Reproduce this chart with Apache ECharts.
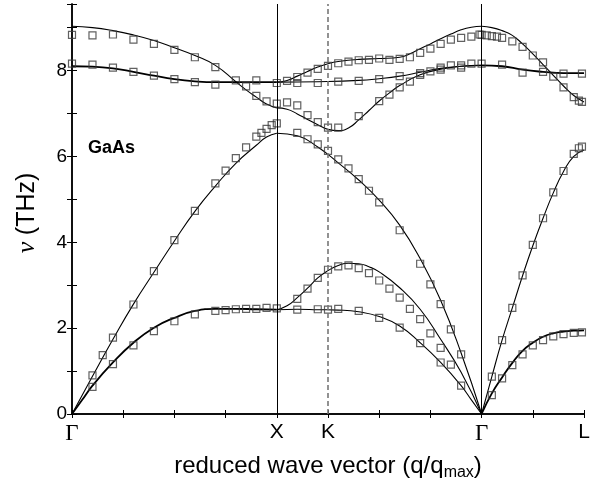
<!DOCTYPE html>
<html>
<head>
<meta charset="utf-8">
<script src="https://cdn.jsdelivr.net/npm/echarts@6/dist/echarts.min.js"></script>
<style>
  html, body { margin: 0; padding: 0; background: #fff; }
  #chart { width: 600px; height: 486px; }
</style>
</head>
<body>
<div id="chart"></div>
<script>
// high symmetry points along the path, in reduced units
var symPos = [0, 1, 1.25, 2, 2.5];
var symNames = ['Γ', 'X', 'K', 'Γ', 'L'];
var yTicks = [0, 2, 4, 6, 8];

// model curves (solid lines), Γ -> X
var lineGX_TA = [[0,0],[0.05,0.33],[0.1,0.66],[0.2,1.2],[0.3,1.66],[0.4,2.01],[0.5,2.24],[0.6,2.40],[0.7,2.45],[0.8,2.45],[0.9,2.44],[1.0,2.43]];
var lineGX_LA = [[0,0],[0.1,0.88],[0.2,1.74],[0.3,2.56],[0.4,3.30],[0.5,4.03],[0.6,4.72],[0.7,5.31],[0.8,5.84],[0.9,6.26],[0.95,6.45],[1.0,6.54]];
var lineGX_TO = [[0,8.10],[0.1,8.09],[0.2,8.05],[0.3,7.97],[0.4,7.88],[0.5,7.80],[0.6,7.75],[0.7,7.73],[0.8,7.73],[0.9,7.73],[1.0,7.73]];
var lineGX_LO = [[0,9.03],[0.1,9.0],[0.2,8.93],[0.3,8.83],[0.4,8.70],[0.5,8.53],[0.6,8.35],[0.7,8.12],[0.8,7.74],[0.85,7.55],[0.9,7.38],[0.95,7.22],[1.0,7.13]];

// X -> K -> Γ
var lineXG_TA1 = [[1,2.43],[1.1,2.44],[1.2,2.43],[1.3,2.42],[1.4,2.38],[1.5,2.27],[1.6,2.05],[1.7,1.66],[1.8,1.20],[1.9,0.66],[1.95,0.33],[2.0,0]];
var lineXG_TA2 = [[1,2.43],[1.05,2.52],[1.1,2.71],[1.15,2.93],[1.2,3.17],[1.25,3.34],[1.3,3.46],[1.35,3.51],[1.4,3.50],[1.45,3.43],[1.5,3.31],[1.6,2.94],[1.7,2.44],[1.8,1.74],[1.9,0.97],[2.0,0]];
var lineXG_LA = [[1,6.54],[1.1,6.48],[1.2,6.22],[1.3,5.85],[1.4,5.45],[1.5,4.98],[1.6,4.40],[1.7,3.62],[1.8,2.65],[1.9,1.42],[2.0,0]];
var lineXG_O1 = [[1,7.13],[1.05,7.10],[1.1,6.99],[1.15,6.86],[1.2,6.74],[1.25,6.63],[1.3,6.60],[1.35,6.66],[1.4,6.85],[1.45,7.07],[1.5,7.29],[1.55,7.48],[1.6,7.65],[1.7,7.90],[1.8,8.03],[1.9,8.10],[2.0,8.12]];
var lineXG_TO = [[1,7.73],[1.2,7.74],[1.4,7.77],[1.5,7.81],[1.6,7.87],[1.7,7.96],[1.8,8.05],[1.9,8.10],[2.0,8.12]];
var lineXG_LO = [[1,7.73],[1.05,7.77],[1.1,7.87],[1.15,7.98],[1.2,8.08],[1.25,8.16],[1.3,8.21],[1.4,8.26],[1.5,8.28],[1.6,8.31],[1.65,8.39],[1.7,8.51],[1.75,8.62],[1.8,8.74],[1.85,8.85],[1.9,8.95],[1.95,9.01],[2.0,9.03]];

// Γ -> L
var lineGL_TA = [[2,0],[2.05,0.48],[2.1,0.85],[2.15,1.19],[2.2,1.47],[2.25,1.66],[2.3,1.80],[2.35,1.88],[2.4,1.92],[2.45,1.94],[2.5,1.95]];
var lineGL_LA = [[2,0],[2.05,0.87],[2.1,1.72],[2.15,2.47],[2.2,3.22],[2.25,3.92],[2.3,4.56],[2.35,5.15],[2.4,5.65],[2.45,6.0],[2.5,6.15]];
var lineGL_TO = [[2,8.12],[2.1,8.10],[2.2,8.02],[2.3,7.97],[2.4,7.94],[2.5,7.94]];
var lineGL_LO = [[2,9.03],[2.05,9.0],[2.1,8.93],[2.15,8.82],[2.2,8.62],[2.25,8.39],[2.3,8.14],[2.35,7.89],[2.4,7.64],[2.45,7.42],[2.5,7.27]];

// measured points (open squares)
var ptsGX_LO = [[0,8.83],[0.1,8.82],[0.2,8.84],[0.3,8.72],[0.4,8.62],[0.5,8.48],[0.6,8.31],[0.7,8.08],[0.85,7.63],[0.9,7.41],[0.95,7.28],[1.0,7.23]];
var ptsGX_TO = [[0,8.16],[0.1,8.14],[0.2,8.07],[0.3,7.97],[0.4,7.88],[0.5,7.80],[0.6,7.73],[0.7,7.67],[0.8,7.77],[0.9,7.77],[1.0,7.71]];
var ptsGX_LA = [[0.1,0.9],[0.15,1.37],[0.2,1.78],[0.3,2.55],[0.4,3.33],[0.5,4.05],[0.6,4.73],[0.7,5.37],[0.75,5.67],[0.8,5.96],[0.85,6.21],[0.9,6.46],[0.925,6.55],[0.95,6.64],[0.975,6.73],[1.0,6.77]];
var ptsGX_TA = [[0.1,0.63],[0.2,1.16],[0.3,1.60],[0.4,1.93],[0.5,2.16],[0.6,2.32],[0.7,2.40],[0.75,2.42],[0.8,2.44],[0.85,2.45],[0.9,2.45],[0.95,2.47],[1.0,2.46]];

var ptsXG_LO = [[1.05,7.76],[1.1,7.85],[1.15,7.95],[1.2,8.04],[1.25,8.11],[1.3,8.17],[1.35,8.21],[1.4,8.24],[1.45,8.25],[1.5,8.28],[1.55,8.25],[1.6,8.27],[1.65,8.31],[1.7,8.41],[1.75,8.51],[1.8,8.62],[1.85,8.72],[1.9,8.76],[1.95,8.79],[1.99,8.84],[2.0,8.83]];
var ptsXG_TO = [[1.1,7.71],[1.2,7.71],[1.3,7.74],[1.4,7.76],[1.5,7.80],[1.6,7.87],[1.7,7.94],[1.8,8.07],[1.85,8.12],[1.9,8.12],[1.95,8.16],[2.0,8.16]];
var ptsXG_O1 = [[1.05,7.26],[1.1,7.19],[1.15,6.96],[1.2,6.80],[1.25,6.67],[1.3,6.67],[1.4,6.94],[1.5,7.29],[1.55,7.44],[1.6,7.61],[1.65,7.74],[1.7,7.90],[1.75,7.98],[1.8,8.02],[1.9,8.07]];
var ptsXG_LA = [[1.1,6.55],[1.15,6.40],[1.2,6.28],[1.25,6.13],[1.3,5.93],[1.35,5.72],[1.4,5.47],[1.45,5.20],[1.5,4.93],[1.6,4.28],[1.7,3.50],[1.75,3.02],[1.8,2.56],[1.85,1.97],[1.9,1.39]];
var ptsXG_TA2 = [[1.1,2.68],[1.15,2.92],[1.2,3.17],[1.25,3.36],[1.3,3.44],[1.35,3.46],[1.4,3.40],[1.45,3.28],[1.5,3.11],[1.55,2.92],[1.6,2.71],[1.65,2.45],[1.7,2.21],[1.75,1.88],[1.8,1.54],[1.85,1.15]];
var ptsXG_TA1 = [[1.1,2.43],[1.2,2.44],[1.25,2.43],[1.3,2.45],[1.4,2.40],[1.5,2.24],[1.6,2.01],[1.7,1.65],[1.8,1.20],[1.9,0.66]];

var ptsGL_LO = [[2.025,8.82],[2.05,8.80],[2.075,8.79],[2.1,8.76],[2.15,8.68],[2.2,8.55],[2.25,8.35],[2.3,8.19],[2.35,7.86],[2.4,7.61],[2.45,7.38],[2.475,7.30],[2.49,7.27]];
var ptsGL_TO = [[2.1,8.14],[2.2,7.95],[2.3,7.97],[2.4,7.93],[2.49,7.93]];
var ptsGL_LA = [[2.05,0.87],[2.1,1.72],[2.15,2.47],[2.2,3.23],[2.25,3.94],[2.3,4.56],[2.35,5.16],[2.4,5.66],[2.45,6.06],[2.475,6.19],[2.49,6.23]];
var ptsGL_TA = [[2.05,0.44],[2.1,0.83],[2.15,1.14],[2.2,1.39],[2.25,1.60],[2.3,1.72],[2.35,1.81],[2.4,1.86],[2.45,1.89],[2.49,1.90]];

var chart = echarts.init(document.getElementById('chart'));

var sans = 'Liberation Sans, Arial, sans-serif';
var serif = 'Liberation Serif, Times New Roman, serif';

// thin curves and the doubly degenerate transverse ones (drawn thicker)
var thinLines = [lineGX_LA, lineGX_LO, lineXG_TA1, lineXG_TA2, lineXG_LA, lineXG_O1, lineXG_TO, lineXG_LO, lineGL_LA, lineGL_LO];
var thickLines = [lineGX_TA, lineGX_TO, lineGL_TA, lineGL_TO];

var allPts = [].concat(ptsGX_LO, ptsGX_TO, ptsGX_LA, ptsGX_TA,
    ptsXG_LO, ptsXG_TO, ptsXG_O1, ptsXG_LA, ptsXG_TA2, ptsXG_TA1,
    ptsGL_LO, ptsGL_TO, ptsGL_LA, ptsGL_TA);

var series = [];

function addLine(d, w) {
    series.push({
        type: 'line',
        data: d,
        smooth: 0.5,
        showSymbol: false,
        symbol: 'none',
        silent: true,
        lineStyle: { color: '#000', width: w },
        z: 3
    });
}
thinLines.forEach(function (d) { addLine(d, 1.1); });
thickLines.forEach(function (d) { addLine(d, 1.8); });

// vertical lines at X, Γ (solid) and K (dashed)
series[0].markLine = {
    silent: true,
    symbol: 'none',
    label: { show: false },
    lineStyle: { color: '#000', width: 1, type: 'solid' },
    data: [{ xAxis: symPos[1] }, { xAxis: symPos[3] }]
};
series[1].markLine = {
    silent: true,
    symbol: 'none',
    label: { show: false },
    lineStyle: { color: '#777', width: 1.6, type: [5, 3] },
    data: [{ xAxis: symPos[2] }]
};

series.push({
    type: 'scatter',
    data: allPts,
    symbol: 'rect',
    symbolSize: 7,
    silent: true,
    itemStyle: { color: 'rgba(0,0,0,0)', borderColor: '#3a3a3a', borderWidth: 1.2 },
    z: 4
});

chart.setOption({
    animation: false,
    grid: { left: 72, right: 16, top: 4, bottom: 71 },
    xAxis: [{
        type: 'value',
        min: 0,
        max: 2.5,
        interval: 0.25,
        splitLine: { show: false },
        axisLine: { lineStyle: { color: '#000', width: 1.5 } },
        axisTick: { length: 4, lineStyle: { color: '#000' } },
        axisLabel: {
            margin: 8,
            formatter: function (v) {
                var i = symPos.indexOf(v);
                if (i < 0) return '';
                return symNames[i] === 'Γ' ? '{g|Γ}' : '{s|' + symNames[i] + '}';
            },
            rich: {
                g: { fontFamily: serif, fontSize: 23, color: '#000' },
                s: { fontFamily: sans, fontSize: 21, color: '#000' }
            }
        },
        name: '{a|reduced wave vector (q/q}{b|max}{a|)}',
        nameLocation: 'middle',
        nameGap: 37,
        nameTextStyle: {
            rich: {
                a: { fontFamily: sans, fontSize: 24, color: '#000' },
                b: { fontFamily: sans, fontSize: 16, color: '#000', padding: [14, 0, 0, 0] }
            }
        }
    }, {
        type: 'value',
        position: 'top',
        min: 0,
        max: 2.5,
        interval: 0.25,
        splitLine: { show: false },
        axisLine: { lineStyle: { color: '#000', width: 1.5 } },
        axisTick: { length: 4, lineStyle: { color: '#000' } },
        axisLabel: { show: false }
    }],
    yAxis: [{
        type: 'value',
        min: 0,
        max: 9.55,
        interval: 1,
        splitLine: { show: false },
        axisLine: { lineStyle: { color: '#000', width: 1.5 } },
        axisTick: { length: 5, lineStyle: { color: '#000' } },
        axisLabel: {
            margin: 5,
            fontFamily: sans,
            fontSize: 19,
            color: '#000',
            formatter: function (v) {
                return yTicks.indexOf(v) >= 0 ? String(v) : '';
            }
        },
        name: '{nu|ν}  {t|(THz)}',
        nameLocation: 'middle',
        nameRotate: 90,
        nameGap: 32,
        nameTextStyle: {
            padding: [0, 0, 0, -8],
            rich: {
                nu: { fontFamily: serif, fontStyle: 'italic', fontSize: 26, color: '#000' },
                t: { fontFamily: sans, fontSize: 25, color: '#000' }
            }
        }
    }, {
        type: 'value',
        position: 'right',
        min: 0,
        max: 9.55,
        interval: 1,
        splitLine: { show: false },
        axisLine: { lineStyle: { color: '#000', width: 1.5 } },
        axisTick: { length: 5, lineStyle: { color: '#000' } },
        axisLabel: { show: false }
    }],
    graphic: [{
        type: 'text',
        left: 88,
        top: 139,
        style: { text: 'GaAs', font: 'bold 18px ' + sans, fill: '#000' }
    }],
    series: series
});
</script>
</body>
</html>
